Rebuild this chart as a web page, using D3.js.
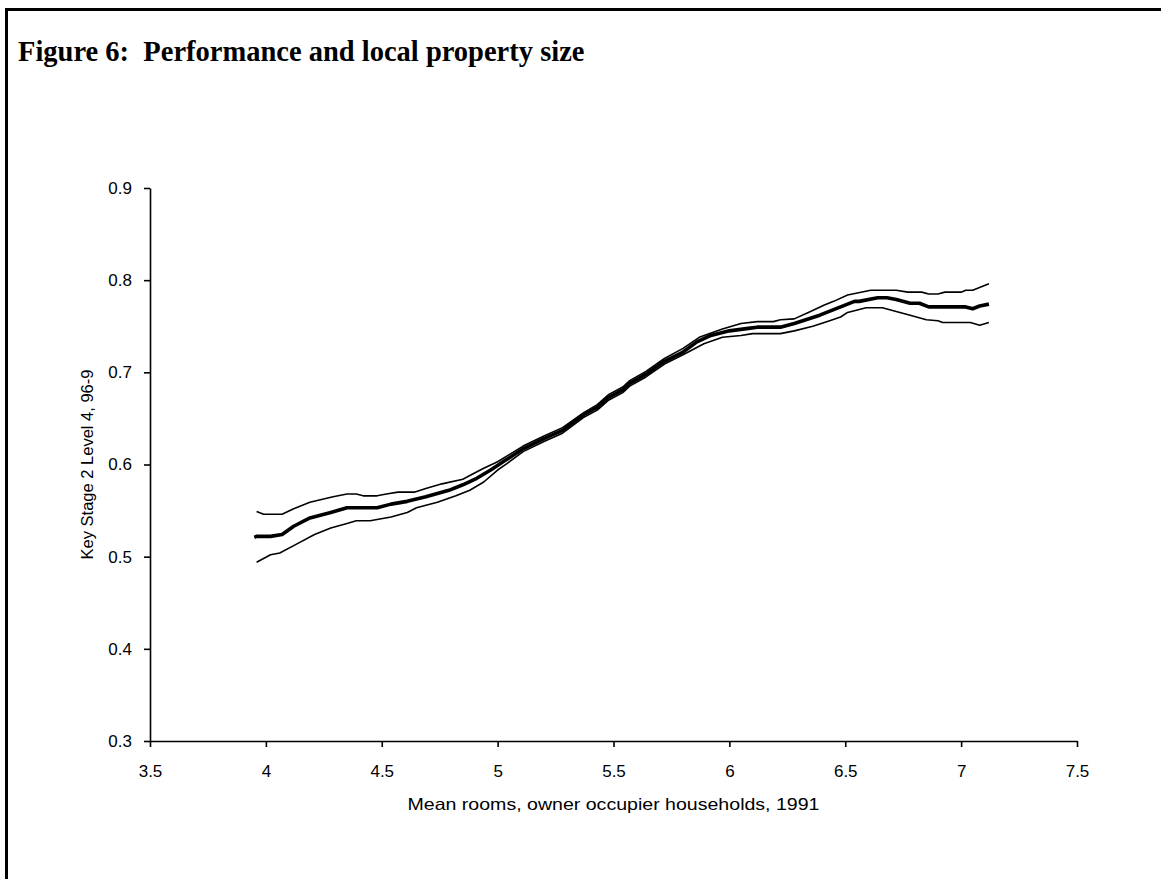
<!DOCTYPE html>
<html>
<head>
<meta charset="utf-8">
<script src="https://cdn.jsdelivr.net/npm/d3@7"></script>
<style>
  html, body { margin: 0; padding: 0; background: #fff; }
  svg { display: block; }
</style>
</head>
<body>
<svg id="chart" width="1161" height="879"></svg>
<script>
// ---- data ----
const titleText = "Figure 6:  Performance and local property size";
const xTitle = "Mean rooms, owner occupier households, 1991";
const yTitle = "Key Stage 2 Level 4, 96-9";

const xTicks = [3.5, 4, 4.5, 5, 5.5, 6, 6.5, 7, 7.5];
const xTickLabels = ["3.5", "4", "4.5", "5", "5.5", "6", "6.5", "7", "7.5"];
const yTicks = [0.3, 0.4, 0.5, 0.6, 0.7, 0.8, 0.9];
const yTickLabels = ["0.3", "0.4", "0.5", "0.6", "0.7", "0.8", "0.9"];

// central estimate (thick line)
const midX = [3.95, 3.96, 4.02, 4.07, 4.12, 4.19, 4.28, 4.35, 4.48, 4.54, 4.61, 4.69, 4.79, 4.85, 4.91, 4.97, 5.03, 5.11, 5.20, 5.28, 5.37, 5.43, 5.48, 5.54, 5.57, 5.64, 5.72, 5.80, 5.86, 5.92, 6.00, 6.09, 6.12, 6.22, 6.28, 6.39, 6.48, 6.54, 6.56, 6.64, 6.68, 6.72, 6.78, 6.82, 6.86, 7.02, 7.05, 7.08, 7.12];
const midY = [0.521, 0.522, 0.522, 0.524, 0.533, 0.542, 0.548, 0.553, 0.553, 0.557, 0.560, 0.565, 0.572, 0.578, 0.585, 0.594, 0.604, 0.617, 0.628, 0.637, 0.654, 0.662, 0.673, 0.681, 0.688, 0.698, 0.712, 0.722, 0.733, 0.740, 0.745, 0.748, 0.749, 0.749, 0.753, 0.762, 0.771, 0.777, 0.777, 0.781, 0.781, 0.779, 0.775, 0.775, 0.771, 0.771, 0.769, 0.772, 0.774];

// upper band (thin line)
const upX = [3.96, 3.99, 4.07, 4.12, 4.19, 4.29, 4.35, 4.39, 4.42, 4.48, 4.52, 4.57, 4.64, 4.69, 4.76, 4.85, 4.88, 4.94, 5.00, 5.11, 5.20, 5.28, 5.37, 5.43, 5.48, 5.54, 5.57, 5.64, 5.72, 5.80, 5.87, 5.97, 6.05, 6.12, 6.19, 6.22, 6.28, 6.35, 6.41, 6.45, 6.51, 6.61, 6.72, 6.77, 6.83, 6.86, 6.90, 6.93, 7.00, 7.02, 7.05, 7.12];
const upY = [0.549, 0.546, 0.546, 0.552, 0.559, 0.565, 0.568, 0.568, 0.566, 0.566, 0.568, 0.570, 0.570, 0.574, 0.579, 0.584, 0.588, 0.596, 0.603, 0.620, 0.631, 0.640, 0.656, 0.665, 0.676, 0.684, 0.691, 0.701, 0.715, 0.726, 0.738, 0.747, 0.753, 0.755, 0.755, 0.757, 0.758, 0.766, 0.773, 0.777, 0.784, 0.789, 0.789, 0.787, 0.787, 0.785, 0.785, 0.787, 0.787, 0.789, 0.789, 0.796];

// lower band (thin line)
const loX = [3.96, 4.02, 4.06, 4.12, 4.21, 4.28, 4.35, 4.39, 4.45, 4.54, 4.61, 4.65, 4.74, 4.82, 4.88, 4.94, 5.00, 5.04, 5.11, 5.20, 5.28, 5.37, 5.43, 5.48, 5.54, 5.57, 5.64, 5.72, 5.80, 5.89, 5.97, 6.05, 6.10, 6.15, 6.22, 6.28, 6.36, 6.42, 6.48, 6.51, 6.59, 6.66, 6.72, 6.78, 6.85, 6.90, 6.92, 7.04, 7.08, 7.12];
const loY = [0.494, 0.502, 0.504, 0.512, 0.524, 0.531, 0.536, 0.539, 0.539, 0.543, 0.548, 0.553, 0.559, 0.566, 0.572, 0.581, 0.594, 0.601, 0.614, 0.625, 0.634, 0.651, 0.659, 0.670, 0.678, 0.685, 0.695, 0.709, 0.719, 0.731, 0.738, 0.740, 0.742, 0.742, 0.742, 0.745, 0.750, 0.755, 0.760, 0.765, 0.770, 0.770, 0.766, 0.762, 0.757, 0.756, 0.754, 0.754, 0.751, 0.754];

// ---- drawing ----
const svg = d3.select("#chart");
const W = 1161, H = 879;
svg.append("rect").attr("width", W).attr("height", H).attr("fill", "#fff");

// frame (top and left rules)
svg.append("path")
  .attr("d", `M6.5,${H} L6.5,9.5 L${W},9.5`)
  .attr("fill", "none").attr("stroke", "#000").attr("stroke-width", 3);

// title
svg.append("text")
  .attr("x", 18).attr("y", 61)
  .attr("font-family", "'Liberation Serif', 'Times New Roman', serif")
  .attr("font-weight", "bold").attr("font-size", 28.5)
  .style("white-space", "pre")
  .attr("fill", "#000")
  .text(titleText);

const x = d3.scaleLinear().domain([3.5, 7.5]).range([150, 1077]);
const y = d3.scaleLinear().domain([0.3, 0.9]).range([741, 188]);

const axisFont = "'Liberation Sans', Arial, sans-serif";

const gx = svg.append("g").attr("transform", `translate(0,${y(0.3)})`)
  .call(d3.axisBottom(x).tickValues(xTicks)
    .tickFormat((d, i) => xTickLabels[i]).tickSize(6).tickSizeOuter(0).tickPadding(18));
const gy = svg.append("g").attr("transform", `translate(${x(3.5)},0)`)
  .call(d3.axisLeft(y).tickValues(yTicks)
    .tickFormat((d, i) => yTickLabels[i]).tickSize(6).tickSizeOuter(0).tickPadding(12));

[gx, gy].forEach(g => {
  g.selectAll("path.domain").attr("stroke", "#000").attr("stroke-width", 1.6);
  g.selectAll(".tick line").attr("stroke", "#000").attr("stroke-width", 1.6);
  g.selectAll(".tick text").attr("fill", "#000")
    .attr("font-family", axisFont).attr("font-size", 17);
});

// axis titles
svg.append("text")
  .attr("x", (x(3.5) + x(7.5)) / 2).attr("y", 810)
  .attr("text-anchor", "middle")
  .attr("font-family", axisFont).attr("font-size", 16.5).attr("fill", "#000")
  .attr("textLength", 412).attr("lengthAdjust", "spacingAndGlyphs")
  .text(xTitle);

svg.append("text")
  .attr("transform", `translate(93,${(y(0.3) + y(0.9)) / 2}) rotate(-90)`)
  .attr("text-anchor", "middle")
  .attr("font-family", axisFont).attr("font-size", 16.5).attr("fill", "#000")
  .text(yTitle);

// series lines
const line = d3.line().x(d => x(d[0])).y(d => y(d[1]));
const series = [
  { xs: upX, ys: upY, w: 1.6 },
  { xs: loX, ys: loY, w: 1.6 },
  { xs: midX, ys: midY, w: 3.6 }
];
series.forEach(s => {
  const pts = s.xs.map((v, i) => [v, s.ys[i]]);
  svg.append("path").datum(pts)
    .attr("d", line)
    .attr("fill", "none").attr("stroke", "#000")
    .attr("stroke-width", s.w).attr("stroke-linejoin", "round");
});
</script>
</body>
</html>
